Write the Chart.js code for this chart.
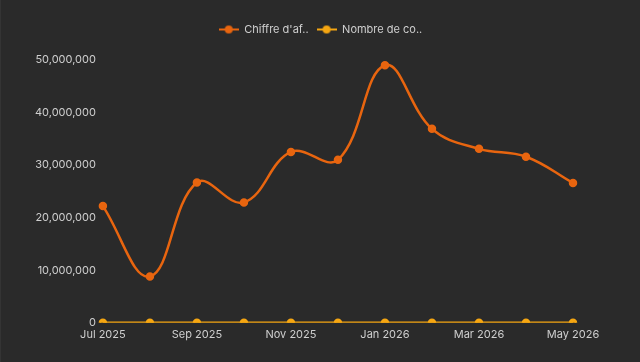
<!DOCTYPE html>
<html>
<head>
<meta charset="utf-8">
<script src="https://cdn.jsdelivr.net/npm/chart.js@4"></script>
<style>
  html, body { margin: 0; padding: 0; background: #2a2a2a; }
  #wrap { width: 640px; height: 362px; position: relative; box-sizing: border-box; border-left: 1px solid #343434; }
</style>
</head>
<body>
<div id="wrap"><canvas id="chart"></canvas></div>
<script>
// Monthly labels
const months = ['Jul 2025', 'Aug 2025', 'Sep 2025', 'Oct 2025', 'Nov 2025', 'Dec 2025',
  'Jan 2026', 'Feb 2026', 'Mar 2026', 'Apr 2026', 'May 2026'];
// Chiffre d'affaires
const revenue = [22200000, 8800000, 26700000, 22900000, 32500000, 31000000,
  49000000, 36900000, 33100000, 31600000, 26600000];
// Nombre de commandes
const orders = [0, 0, 0, 0, 0, 0, 0, 0, 0, 0, 0];
const legendNames = ["Chiffre d'af..", 'Nombre de co..'];

const textColor = '#cfcfcf';

// small legend icon: line through a dot
function legendIcon(color) {
  const c = document.createElement('canvas');
  c.width = 20; c.height = 10;
  const g = c.getContext('2d');
  g.strokeStyle = color;
  g.lineWidth = 2;
  g.beginPath(); g.moveTo(0, 5); g.lineTo(20, 5); g.stroke();
  g.fillStyle = color;
  g.beginPath(); g.arc(10, 5, 4, 0, Math.PI * 2); g.fill();
  return c;
}

// extra space under the legend, and center it on the whole canvas
const legendTweak = {
  id: 'legendTweak',
  beforeLayout(chart) {
    const lg = chart.legend;
    if (!lg || lg._gapPatched) return;
    const fit = lg.fit;
    lg.fit = function () { fit.call(this); this.height += 15; };
    lg._gapPatched = true;
  },
  afterLayout(chart) {
    const lg = chart.legend;
    if (!lg) return;
    lg.left = 0;
    lg.right = chart.width;
    lg.width = chart.width;
  }
};

const ctx = document.getElementById('chart').getContext('2d');
new Chart(ctx, {
  type: 'line',
  data: {
    labels: months,
    datasets: [{
      label: legendNames[0],
      data: revenue,
      borderColor: '#e8650f',
      backgroundColor: '#e8650f',
      borderWidth: 2.5,
      pointRadius: 3,
      tension: 0.4
    }, {
      label: legendNames[1],
      data: orders,
      borderColor: '#f5a612',
      backgroundColor: '#f5a612',
      borderWidth: 2.5,
      pointRadius: 3,
      tension: 0.4
    }]
  },
  plugins: [legendTweak],
  options: {
    responsive: true,
    maintainAspectRatio: false,
    animation: false,
    layout: { padding: { left: 27, right: 67, top: 16, bottom: 16 } },
    plugins: {
      legend: {
        labels: {
          color: textColor,
          font: { family: 'Inter', size: 11 },
          usePointStyle: true,
          pointStyleWidth: 20,
          boxHeight: 10,
          padding: 8,
          generateLabels(chart) {
            return chart.data.datasets.map((ds, i) => ({
              text: ds.label,
              fontColor: textColor,
              pointStyle: legendIcon(ds.borderColor),
              datasetIndex: i,
              hidden: false,
              lineWidth: 0,
              strokeStyle: ds.borderColor,
              fillStyle: ds.borderColor
            }));
          }
        }
      },
      tooltip: { enabled: false }
    },
    scales: {
      x: {
        grid: { display: false, drawTicks: false },
        border: { display: false },
        ticks: { color: textColor, font: { family: 'Inter', size: 11 }, maxRotation: 0, autoSkip: false,
          padding: 5,
          callback(v, i) { return i % 2 === 0 ? months[i] : ''; } }
      },
      y: {
        min: 0,
        max: 50000000,
        grid: { display: false, drawTicks: false },
        border: { display: false },
        ticks: { color: textColor, font: { family: 'Inter', size: 11 }, stepSize: 10000000,
          padding: 7,
          callback: v => v.toLocaleString('en-US') }
      }
    }
  }
});
</script>
</body>
</html>
